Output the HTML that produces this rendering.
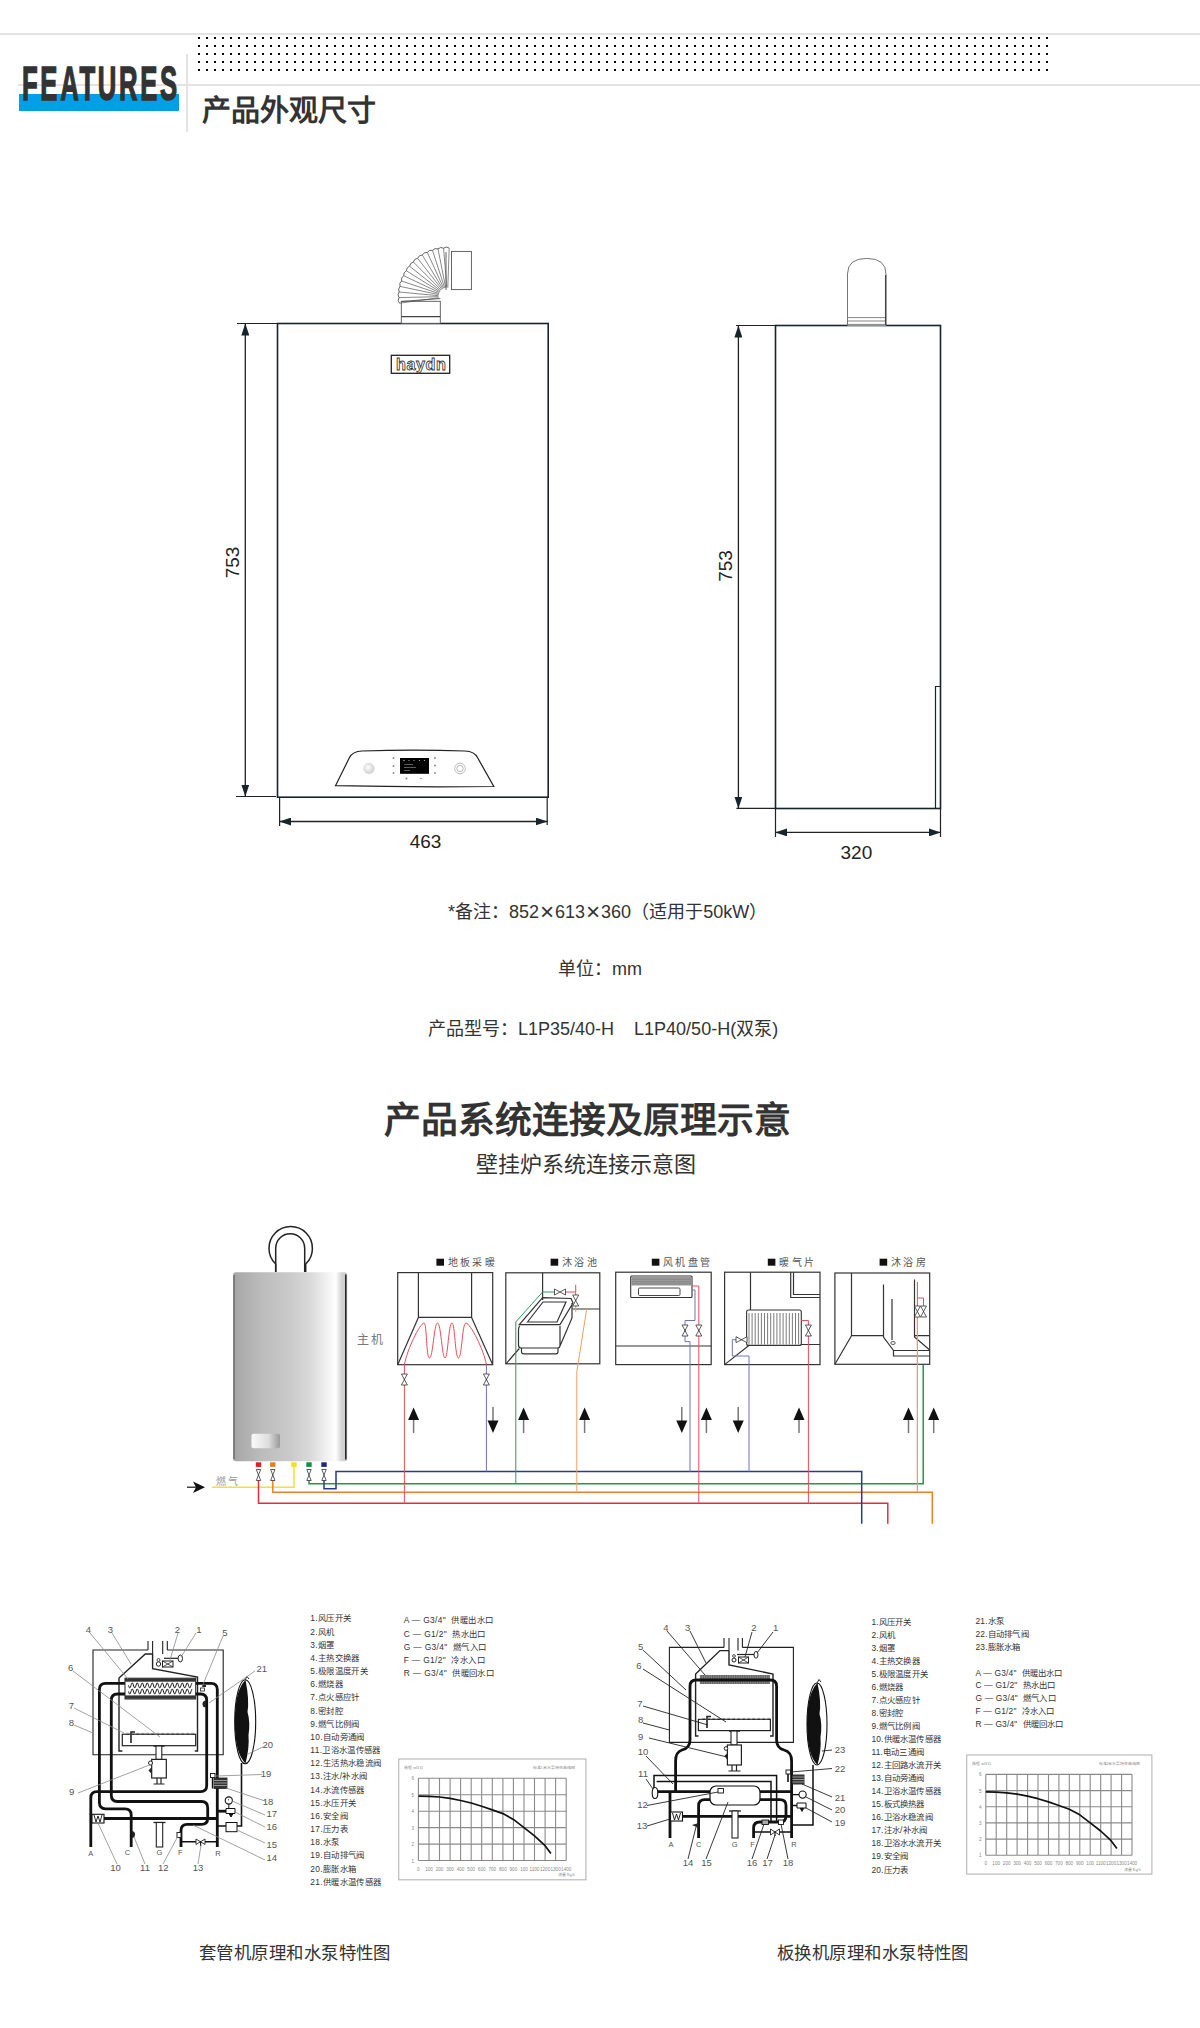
<!DOCTYPE html>
<html lang="zh-CN"><head><meta charset="utf-8">
<style>
html,body{margin:0;padding:0;background:#fff;}
body{width:1200px;height:2028px;position:relative;overflow:hidden;font-family:"Liberation Sans",sans-serif;color:#333;}
.a{position:absolute;white-space:nowrap;}
.lg{position:absolute;white-space:nowrap;font-size:8.4px;letter-spacing:0.35px;line-height:14px;color:#333;}
.l2{font-size:8.4px;letter-spacing:0.2px}
.x{display:inline-block;width:16px;text-align:center;transform:scale(1.35);font-weight:300}
svg{position:absolute;left:0;top:0;}
</style></head><body>

<svg width="1200" height="900" viewBox="0 0 1200 900" style="top:0;left:0">
<defs>
<marker id="ar" viewBox="0 0 12 8" refX="11.5" refY="4" markerWidth="12" markerHeight="8" markerUnits="userSpaceOnUse" orient="auto-start-reverse"><path d="M0 0L12 4L0 8Z" fill="#16242c"/></marker>
<radialGradient id="knob" cx="0.4" cy="0.4" r="0.7"><stop offset="0" stop-color="#fff"/><stop offset="1" stop-color="#c8c8c8"/></radialGradient>
</defs>
<g fill="none" stroke="#16242c">
<!-- front box -->
<rect x="277.5" y="323.5" width="270.7" height="473.7" stroke-width="1.6"/>
<path d="M237 323.5H277.5 M236 796.5H276" stroke-width="1.2" stroke="#222"/>
<path d="M245.3 324L245.3 796" stroke-width="1.3" stroke="#222" marker-start="url(#ar)" marker-end="url(#ar)"/>
<path d="M279.6 798V826 M547.2 798V825" stroke-width="1.2" stroke="#222"/>
<path d="M279.8 821.5H547" stroke-width="1.3" stroke="#222" marker-start="url(#ar)" marker-end="url(#ar)"/>
<!-- side box -->
<rect x="775.5" y="325.5" width="165" height="483" stroke-width="1.6"/>
<path d="M736 325.5H775.5 M736.4 808.4H775.5" stroke-width="1.2" stroke="#222"/>
<path d="M738.4 326L738.4 808" stroke-width="1.3" stroke="#222" marker-start="url(#ar)" marker-end="url(#ar)"/>
<path d="M775.5 809V837 M940.5 809V837" stroke-width="1.2" stroke="#222"/>
<path d="M775.7 832.4H940.3" stroke-width="1.3" stroke="#222" marker-start="url(#ar)" marker-end="url(#ar)"/>
<path d="M940.5 686.5H935.5V808.5" stroke-width="1.2"/>
</g>
<!-- front flue -->
<g fill="#fff" stroke="#555" stroke-width="0.9">
<rect x="401.3" y="301.3" width="39" height="22"/>
<path d="M401.3 316.6H440.3" stroke="#444" stroke-width="1.2"/>
<path d="M401.3 301.5L440.3 298.5"/>
<rect x="451.5" y="251.4" width="19.9" height="38.2"/>
<path d="M446 252V290" />
<path fill="none" stroke-width="0.7" d="M438.6 297.8L399.5 303.2 M438.5 296.7L399.0 297.6 M438.5 295.7L399.2 292.0 M438.7 294.6L400.1 286.4 M439.0 293.6L401.6 281.0 M439.4 292.6L403.7 275.7 M439.9 291.7L406.4 270.8 M440.5 290.9L409.6 266.2 M441.2 290.1L413.4 262.0 M442.0 289.4L417.6 258.3 M442.8 288.8L422.3 255.1 M443.7 288.3L427.3 252.4 M444.7 287.9L432.5 250.4 M445.7 287.7L438.0 248.9 M446.8 287.5L443.6 248.2 M447.8 287.5L449.2 248.0"/>
<path fill="none" stroke-width="0.9" d="M399.5 303.2Q397.2 300.6 399.0 297.6Q397.0 294.7 399.2 292.0Q397.6 288.9 400.1 286.4Q398.8 283.1 401.6 281.0Q400.7 277.6 403.7 275.7Q403.2 272.3 406.4 270.8Q406.3 267.3 409.6 266.2Q410.0 262.7 413.4 262.0Q414.1 258.6 417.6 258.3Q418.8 255.0 422.3 255.1Q423.8 251.9 427.3 252.4Q429.1 249.5 432.5 250.4Q434.7 247.6 438.0 248.9Q440.5 246.5 443.6 248.2Q446.3 246.0 449.2 248.0"/>
</g>
<!-- logo -->
<rect x="391.3" y="355.3" width="58.4" height="18" fill="none" stroke="#222" stroke-width="1.3"/>
<text x="421.2" y="369.8" text-anchor="middle" font-family="Liberation Sans" font-weight="bold" font-size="16.2" fill="#fff" stroke="#333" stroke-width="0.8" letter-spacing="0.5">haydn</text>
<!-- control panel -->
<path d="M335.5 785.7L349.5 757.5Q352.5 751.5 362 751Q414 749.3 465 751Q474.5 751.5 477.5 757.5L493.8 786.5Q414 787.5 335.5 785.7Z" fill="#fff" stroke="#222" stroke-width="1.2"/>
<rect x="400" y="758" width="29" height="15.8" fill="#000"/>
<g fill="#bbb"><circle cx="404" cy="760.5" r="0.7"/><circle cx="409" cy="760.5" r="0.6"/><circle cx="414" cy="760.5" r="0.6"/><circle cx="419.5" cy="760.5" r="0.6"/><circle cx="424.5" cy="760.5" r="0.6"/><rect x="404" y="764.5" width="9" height="0.5"/><rect x="404" y="767.5" width="12" height="0.5"/><rect x="404" y="770.5" width="6" height="0.5"/></g>
<g fill="#888"><circle cx="393.5" cy="758" r="1"/><circle cx="393.5" cy="766" r="1"/><circle cx="393.5" cy="773" r="0.9"/><circle cx="435" cy="758" r="1"/><circle cx="435" cy="765.5" r="1"/><circle cx="435" cy="773" r="0.9"/><circle cx="406.5" cy="778.5" r="1"/><circle cx="421" cy="778.5" r="0.8"/></g>
<circle cx="369" cy="768.5" r="5.3" fill="url(#knob)" stroke="#ddd" stroke-width="0.8"/>
<circle cx="460" cy="768.5" r="5.3" fill="#fff" stroke="#bbb" stroke-width="1"/>
<circle cx="460" cy="768.5" r="3.2" fill="none" stroke="#999" stroke-width="0.7"/>
<!-- side flue -->
<path d="M847.5 325.5V274Q847.5 258.4 866.7 258.4Q886 258.4 886 274V325.5" fill="#fff" stroke="#666" stroke-width="0.9"/>
<path d="M847.5 317.6H886 M847.5 321H886 M847.5 324.4H886" stroke="#666" stroke-width="0.8"/>
<path d="M885.6 275V325" stroke="#444" stroke-width="1.3"/>
<!-- dimension labels -->
<g font-family="Liberation Sans" font-size="19" fill="#222">
<text x="425.6" y="848" text-anchor="middle">463</text>
<text x="856.4" y="859" text-anchor="middle">320</text>
<text transform="translate(239 562.5) rotate(-90)" text-anchor="middle">753</text>
<text transform="translate(731.8 566) rotate(-90)" text-anchor="middle">753</text>
</g>
</svg>


<svg width="1200" height="2028" viewBox="0 0 1200 2028" style="top:0;left:0">
<defs>
<linearGradient id="bg" x1="0" x2="1" y1="0" y2="0"><stop offset="0" stop-color="#a6a6a6"/><stop offset="0.25" stop-color="#bcbcbc"/><stop offset="0.5" stop-color="#cacaca"/><stop offset="0.68" stop-color="#dadada"/><stop offset="0.84" stop-color="#f4f4f4"/><stop offset="0.9" stop-color="#fefefe"/><stop offset="0.95" stop-color="#d5d5d5"/><stop offset="1" stop-color="#c8c8c8"/></linearGradient>
<linearGradient id="wg" x1="0" x2="1"><stop offset="0" stop-color="#fafafa"/><stop offset="0.6" stop-color="#ddd"/><stop offset="1" stop-color="#999"/></linearGradient>
</defs>
<!-- boiler -->
<path d="M275.7 1272V1264A21.7 21.7 0 1 1 305.7 1264V1272" fill="none" stroke="#222" stroke-width="1.5"/>
<path d="M275.7 1272V1248.3A14.5 14.5 0 0 1 304.7 1248.3V1272" fill="none" stroke="#222" stroke-width="1.5"/>
<rect x="233.2" y="1272.3" width="114" height="189" rx="2.5" fill="url(#bg)"/>
<path d="M345.8 1274.5V1459.5" stroke="#2a2a2a" stroke-width="1.6"/>
<path d="M234 1275V1459" stroke="#555" stroke-width="1.1"/>
<rect x="251.5" y="1433.7" width="28.5" height="14.6" rx="2" fill="url(#wg)"/>
<g stroke-width="1.5" fill="none">
<path d="M294 1466V1487.2H212" stroke="#f2e22a"/>
<path d="M258.5 1478V1503.3H887.8V1523.8" stroke="#e0303a"/>
<path d="M272.8 1478V1492.3H932.3V1523.8" stroke="#e8822a"/>
<path d="M309 1478V1483.8H923.2V1364.5" stroke="#1f9a4c"/>
<path d="M324 1478V1488.7H336V1471.6H861.7V1523.8" stroke="#2a3a8a"/>
</g>
<rect x="255.8" y="1462.3" width="5.4" height="4.6" fill="#e02020"/>
<rect x="270.1" y="1462.3" width="5.4" height="4.6" fill="#e8801a"/>
<rect x="291.3" y="1462.3" width="5.4" height="4.6" fill="#f5e020"/>
<rect x="306.3" y="1462.3" width="5.4" height="4.6" fill="#109040"/>
<rect x="321.3" y="1462.3" width="5.4" height="4.6" fill="#1a2a80"/>
<path d="M256.3 1469.5L260.7 1469.5L256.3 1480.5L260.7 1480.5Z" fill="#fff" stroke="#333" stroke-width="0.8"/><path d="M270.6 1469.5L275.0 1469.5L270.6 1480.5L275.0 1480.5Z" fill="#fff" stroke="#333" stroke-width="0.8"/><path d="M306.8 1469.5L311.2 1469.5L306.8 1480.5L311.2 1480.5Z" fill="#fff" stroke="#333" stroke-width="0.8"/><path d="M321.8 1469.5L326.2 1469.5L321.8 1480.5L326.2 1480.5Z" fill="#fff" stroke="#333" stroke-width="0.8"/>
<path d="M187 1487.2H200" stroke="#111" stroke-width="1.2"/><path d="M205 1487.2L193 1481.5L196 1487.2L193 1493Z" fill="#111"/>
<!-- rooms -->
<g fill="none" stroke="#333" stroke-width="1.2">
<rect x="397.7" y="1272.6" width="95" height="92.1"/>
<path d="M418.4 1272.6V1317.4H471.6V1272.6 M418.4 1317.4L397.7 1364.7 M471.6 1317.4L492.7 1364.7"/>
<rect x="505.8" y="1272.8" width="94" height="91"/>
<path d="M542.6 1272.8V1300 M572.4 1309H599.8 M506 1363.8L519.3 1348.5"/>
<path d="M519.3 1324.6L542.6 1297.6L571 1298.5L573 1303L560 1324.6Z M527.5 1322L543 1302L566 1302L557 1322Z M519.8 1326Q518.5 1327 518.5 1330V1345Q518.5 1348 521 1348H558Q560 1348 560 1345V1326 M560 1346L572 1318V1303 M521.5 1348.5V1352Q521.5 1353.8 524 1353.8H556Q558 1353.8 558 1351.5V1348.5"/>
<rect x="615.7" y="1272.2" width="95.5" height="92.4"/>
<path d="M615.7 1346H711.2"/>
<rect x="724.6" y="1272.2" width="95.4" height="92.4"/>
<path d="M750.5 1272.2V1312 M801 1344.5H820 M724.6 1364.6L751.4 1343.5 M790.7 1272.2V1297.5H820 M793.5 1272.2V1294.5H820"/>
<rect x="834.9" y="1273" width="94.8" height="91.3"/>
<path d="M851.5 1273V1335.7H883 M914.5 1335.7H929.7 M834.9 1364.3L851.5 1335.7"/>
<path d="M883.5 1284.6V1337 L893.5 1350.5H929.7 M914.5 1279.4V1337L929.7 1350 M893.5 1350.5V1356H929.7 M892 1299V1340"/>
</g>
<ellipse cx="893" cy="1343" rx="2.2" ry="1.5" fill="none" stroke="#333" stroke-width="0.8"/>
<rect x="630.7" y="1276" width="61.3" height="21.5" rx="1" fill="#fff" stroke="#333" stroke-width="1.1"/>
<rect x="631.3" y="1277" width="60" height="8.5" fill="#9a9a9a"/>
<path d="M631.3 1279.3H691.3M631.3 1281.6H691.3M631.3 1283.8H691.3" stroke="#777" stroke-width="0.5"/>
<rect x="638.5" y="1288" width="41.5" height="7.5" rx="1.2" fill="#fff" stroke="#333" stroke-width="0.9"/>
<rect x="746.6" y="1310" width="54.7" height="35.4" rx="2" fill="#fff" stroke="#333" stroke-width="1.1"/>
<path d="M749.0 1313V1344.5 M752.1 1313V1344.5 M755.2 1313V1344.5 M758.3 1313V1344.5 M761.4 1313V1344.5 M764.5 1313V1344.5 M767.6 1313V1344.5 M770.7 1313V1344.5 M773.8 1313V1344.5 M776.9 1313V1344.5 M780.0 1313V1344.5 M783.1 1313V1344.5 M786.2 1313V1344.5 M789.3 1313V1344.5 M792.4 1313V1344.5 M795.5 1313V1344.5 M798.6 1313V1344.5 " stroke="#444" stroke-width="0.7"/>
<g fill="none" stroke-width="1">
<path d="M404.4 1364.7V1503" stroke="#e4505a"/>
<path d="M486.4 1364.7V1471.6" stroke="#6c74b8"/>
<path d="M515.8 1484V1321.9L542.6 1292H555" stroke="#2a9a5a"/>
<path d="M565 1292H575.7V1284.7 M575.7 1292V1296" stroke="#e4505a"/>
<path d="M576.8 1492.4V1372L586.7 1309 M575.7 1305V1312" stroke="#f0a060"/>
<path d="M690 1471.6V1341.6H685V1320.5H695V1290H692" stroke="#6c74b8"/>
<path d="M698.8 1503.3V1286H692" stroke="#e4505a"/>
<path d="M749 1471.6V1356H732.3V1339.7H746" stroke="#6c74b8"/>
<path d="M808.4 1503.3V1320.5H801" stroke="#e4505a"/>
<path d="M917.4 1492.4V1317 M917.4 1306V1282 M917.4 1298H923.5V1306" stroke="#e4505a"/>
<path d="M917.4 1492.4V1317" stroke="#f0a060"/>
</g>
<path d="M404.4 1364.7C407 1350 420 1323 424 1323C427 1323 426 1358 429.5 1358C433 1358 434 1323 437.5 1323C441 1323 442 1358 445 1358C448 1358 448.5 1323 452 1323C455 1323 455 1358 458.5 1358C462 1358 462 1323 466 1323C470 1323 484 1350 486.4 1364.7" fill="none" stroke="#e4505a" stroke-width="1"/>
<path d="M401.4 1374.0L407.4 1374.0L401.4 1385.0L407.4 1385.0Z" fill="#fff" stroke="#333" stroke-width="0.8"/><path d="M483.4 1374.0L489.4 1374.0L483.4 1385.0L489.4 1385.0Z" fill="#fff" stroke="#333" stroke-width="0.8"/><path d="M554.5 1289L554.5 1295L565.5 1289L565.5 1295Z" fill="#fff" stroke="#333" stroke-width="0.8"/><path d="M572.7 1295.0L578.7 1295.0L572.7 1306.0L578.7 1306.0Z" fill="#fff" stroke="#333" stroke-width="0.8"/><path d="M682 1325.0L688 1325.0L682 1336.0L688 1336.0Z" fill="#fff" stroke="#333" stroke-width="0.8"/><path d="M695.8 1325.0L701.8 1325.0L695.8 1336.0L701.8 1336.0Z" fill="#fff" stroke="#333" stroke-width="0.8"/><path d="M736.0 1336.7L736.0 1342.7L747.0 1336.7L747.0 1342.7Z" fill="#fff" stroke="#333" stroke-width="0.8"/><path d="M805.4 1325.0L811.4 1325.0L805.4 1336.0L811.4 1336.0Z" fill="#fff" stroke="#333" stroke-width="0.8"/><path d="M914.4 1306.0L920.4 1306.0L914.4 1317.0L920.4 1317.0Z" fill="#fff" stroke="#333" stroke-width="0.8"/><path d="M920.5 1306.0L926.5 1306.0L920.5 1317.0L926.5 1317.0Z" fill="#fff" stroke="#333" stroke-width="0.8"/>
<path d="M413.6 1433V1418" stroke="#777" stroke-width="1.5"/><path d="M413.6 1407.5L419.1 1420L408.1 1420Z" fill="#111"/><path d="M523.6 1433V1418" stroke="#777" stroke-width="1.5"/><path d="M523.6 1407.5L529.1 1420L518.1 1420Z" fill="#111"/><path d="M584.6 1433V1418" stroke="#777" stroke-width="1.5"/><path d="M584.6 1407.5L590.1 1420L579.1 1420Z" fill="#111"/><path d="M706.4 1433V1418" stroke="#777" stroke-width="1.5"/><path d="M706.4 1407.5L711.9 1420L700.9 1420Z" fill="#111"/><path d="M799 1433V1418" stroke="#777" stroke-width="1.5"/><path d="M799 1407.5L804.5 1420L793.5 1420Z" fill="#111"/><path d="M908.5 1433V1418" stroke="#777" stroke-width="1.5"/><path d="M908.5 1407.5L914.0 1420L903.0 1420Z" fill="#111"/><path d="M933.7 1433V1418" stroke="#777" stroke-width="1.5"/><path d="M933.7 1407.5L939.2 1420L928.2 1420Z" fill="#111"/><path d="M493 1407V1422" stroke="#777" stroke-width="1.5"/><path d="M493 1433L498.5 1420.5L487.5 1420.5Z" fill="#111"/><path d="M681.8 1407V1422" stroke="#777" stroke-width="1.5"/><path d="M681.8 1433L687.3 1420.5L676.3 1420.5Z" fill="#111"/><path d="M738.2 1407V1422" stroke="#777" stroke-width="1.5"/><path d="M738.2 1433L743.7 1420.5L732.7 1420.5Z" fill="#111"/>
<g font-family="Liberation Sans" fill="#555" font-size="10">
<text x="447.6" y="1266" letter-spacing="2.4">地板采暖</text>
<text x="561.8" y="1266" letter-spacing="2.4">沐浴池</text>
<text x="663" y="1266" letter-spacing="2.4">风机盘管</text>
<text x="779.2" y="1266" letter-spacing="2.4">暖气片</text>
<text x="891" y="1266" letter-spacing="2.4">沐浴房</text>
<text x="357" y="1343.5" font-size="12" letter-spacing="1.5" fill="#777">主机</text>
<text x="215.5" y="1484.5" font-size="10" fill="#999" letter-spacing="2.5">燃气</text>
</g>
<g fill="#151010"><rect x="436.4" y="1258.7" width="7.6" height="7"/><rect x="550.6" y="1258.7" width="7.6" height="7"/><rect x="651.8" y="1258.7" width="7.6" height="7"/><rect x="767.8" y="1258.7" width="7.6" height="7"/><rect x="879.6" y="1258.7" width="7.6" height="7"/></g>
</svg>







<!-- S3 -->
<svg width="1200" height="2028" viewBox="0 0 1200 2028" style="top:0;left:0">
<g fill="none" stroke="#222" stroke-width="1.1">
<path d="M148 1650H93V1754.8H223.2V1650H167.3 M148 1641V1650 M167.3 1641V1650 M152.6 1641V1654 M162.7 1641V1654"/>
</g>
<g fill="none" stroke="#222" stroke-width="1.4">
<path d="M152.6 1654H145.3L119 1678V1751H122.4 M152.6 1654V1668.7L197.5 1677V1751H194.8"/>
</g>
<rect x="122.3" y="1734.3" width="73.4" height="11.4" fill="#fff" stroke="#222" stroke-width="1.2"/>
<path d="M131 1743V1732H135" stroke="#222" stroke-width="1.6" fill="none"/>
<path d="M124 1734.3h2.5v-1h2.5v1h2.5v-1h2.5v1h2.5v-1h2.5v1h2.5v-1h2.5v1h2.5v-1h2.5v1h2.5v-1h2.5v1h2.5v-1h2.5v1h2.5v-1h2.5v1h2.5v-1h2.5v1h2.5v-1h2.5v1h2.5v-1h2.5v1h2.5v-1h2.5v1h2.5v-1h2.5v1h2.5v-1h2.5v1" stroke="#666" stroke-width="0.6" fill="none"/>
<path d="M153.5 1746H164.5" stroke="#222" stroke-width="1.5"/><rect x="156" y="1746" width="5.8" height="13.4" fill="#fff" stroke="#222" stroke-width="1.1"/>
<rect x="151.7" y="1759.4" width="14.6" height="18.6" fill="#fff" stroke="#222" stroke-width="1.2"/>
<circle cx="150.5" cy="1763" r="2" fill="#fff" stroke="#222" stroke-width="1"/><path d="M148.5 1770.5L151.7 1767V1774Z" fill="#222"/>
<path d="M157 1778V1784 M161 1778V1784 M153.5 1784H164.5" stroke="#222" stroke-width="1.2"/>
<rect x="162.5" y="1661" width="10.5" height="6" fill="#fff" stroke="#222" stroke-width="1"/><path d="M162.5 1661L173 1667M173 1661L162.5 1667" stroke="#222" stroke-width="0.8"/>
<circle cx="158.5" cy="1664" r="2.2" fill="#fff" stroke="#222" stroke-width="1"/><circle cx="158.5" cy="1660" r="1.5" fill="#fff" stroke="#222" stroke-width="0.8"/>
<path d="M164 1658.3H178" stroke="#222" stroke-width="1.2"/><ellipse cx="180.3" cy="1658.5" rx="2.2" ry="3.5" fill="#fff" stroke="#222" stroke-width="1"/>
<g fill="none" stroke="#111" stroke-width="2.8" stroke-linejoin="round">
<path d="M131.2 1847V1815Q131.2 1808.8 125 1808.8H105.6Q99.4 1808.8 99.4 1802.6V1689.5Q99.4 1683.3 105.6 1683.3H211.1Q217.3 1683.3 217.3 1689.5V1847"/>
<path d="M181 1847V1830.6Q181 1824.4 187.2 1824.4H201.5Q207.7 1824.4 207.7 1818.2V1807.7Q207.7 1801.5 201.5 1801.5H117.5Q111.3 1801.5 111.3 1795.3V1700.2Q111.3 1694 117.5 1694H200.5Q206.7 1694 206.7 1700.2V1785.5Q206.7 1791.7 200.5 1791.7H97Q90.8 1791.7 90.8 1797.9V1847"/>
<path d="M104 1818.5H217.3"/>
</g>
<rect x="125" y="1678.2" width="70.7" height="20.8" fill="#fff" stroke="#222" stroke-width="1"/>
<rect x="125" y="1678.3" width="70.8" height="3.4" fill="#333"/><rect x="125" y="1695.4" width="70.8" height="3.4" fill="#333"/>
<path d="M128.5 1685.4L128.9 1686.6L129.3 1687.5L129.7 1687.9L130.1 1687.7L130.5 1686.9L130.9 1685.7L131.3 1684.5L131.7 1683.5L132.1 1682.9L132.5 1683.0L132.9 1683.7L133.3 1684.8L133.7 1686.0L134.1 1687.1L134.5 1687.8L134.9 1687.9L135.3 1687.3L135.7 1686.3L136.1 1685.1L136.5 1683.9L136.9 1683.1L137.3 1682.9L137.7 1683.3L138.1 1684.2L138.5 1685.4L138.9 1686.6L139.3 1687.5L139.7 1687.9L140.1 1687.7L140.5 1686.9L140.9 1685.7L141.3 1684.5L141.7 1683.5L142.1 1682.9L142.5 1683.0L142.9 1683.7L143.3 1684.8L143.7 1686.0L144.1 1687.1L144.5 1687.8L144.9 1687.9L145.3 1687.3L145.7 1686.3L146.1 1685.1L146.5 1683.9L146.9 1683.1L147.3 1682.9L147.7 1683.3L148.1 1684.2L148.5 1685.4L148.9 1686.6L149.3 1687.5L149.7 1687.9L150.1 1687.7L150.5 1686.9L150.9 1685.7L151.3 1684.5L151.7 1683.5L152.1 1682.9L152.5 1683.0L152.9 1683.7L153.3 1684.8L153.7 1686.0L154.1 1687.1L154.5 1687.8L154.9 1687.9L155.3 1687.3L155.7 1686.3L156.1 1685.1L156.5 1683.9L156.9 1683.1L157.3 1682.9L157.7 1683.3L158.1 1684.2L158.5 1685.4L158.9 1686.6L159.3 1687.5L159.7 1687.9L160.1 1687.7L160.5 1686.9L160.9 1685.7L161.3 1684.5L161.7 1683.5L162.1 1682.9L162.5 1683.0L162.9 1683.7L163.3 1684.8L163.7 1686.0L164.1 1687.1L164.5 1687.8L164.9 1687.9L165.3 1687.3L165.7 1686.3L166.1 1685.1L166.5 1683.9L166.9 1683.1L167.3 1682.9L167.7 1683.3L168.1 1684.2L168.5 1685.4L168.9 1686.6L169.3 1687.5L169.7 1687.9L170.1 1687.7L170.5 1686.9L170.9 1685.7L171.3 1684.5L171.7 1683.5L172.1 1682.9L172.5 1683.0L172.9 1683.7L173.3 1684.8L173.7 1686.0L174.1 1687.1L174.5 1687.8L174.9 1687.9L175.3 1687.3L175.7 1686.3L176.1 1685.1L176.5 1683.9L176.9 1683.1L177.3 1682.9L177.7 1683.3L178.1 1684.2L178.5 1685.4L178.9 1686.6L179.3 1687.5L179.7 1687.9L180.1 1687.7L180.5 1686.9L180.9 1685.7L181.3 1684.5L181.7 1683.5L182.1 1682.9L182.5 1683.0L182.9 1683.7L183.3 1684.8L183.7 1686.0L184.1 1687.1L184.5 1687.8L184.9 1687.9L185.3 1687.3L185.7 1686.3L186.1 1685.1L186.5 1683.9L186.9 1683.1L187.3 1682.9L187.7 1683.3L188.1 1684.2L188.5 1685.4L188.9 1686.6L189.3 1687.5L189.7 1687.9L190.1 1687.7L190.5 1686.9L190.9 1685.7L191.3 1684.5L191.7 1683.5L192.1 1682.9 M128.5 1691.5L128.9 1692.7L129.3 1693.6L129.7 1694.0L130.1 1693.8L130.5 1693.0L130.9 1691.8L131.3 1690.6L131.7 1689.6L132.1 1689.0L132.5 1689.1L132.9 1689.8L133.3 1690.9L133.7 1692.1L134.1 1693.2L134.5 1693.9L134.9 1694.0L135.3 1693.4L135.7 1692.4L136.1 1691.2L136.5 1690.0L136.9 1689.2L137.3 1689.0L137.7 1689.4L138.1 1690.3L138.5 1691.5L138.9 1692.7L139.3 1693.6L139.7 1694.0L140.1 1693.8L140.5 1693.0L140.9 1691.8L141.3 1690.6L141.7 1689.6L142.1 1689.0L142.5 1689.1L142.9 1689.8L143.3 1690.9L143.7 1692.1L144.1 1693.2L144.5 1693.9L144.9 1694.0L145.3 1693.4L145.7 1692.4L146.1 1691.2L146.5 1690.0L146.9 1689.2L147.3 1689.0L147.7 1689.4L148.1 1690.3L148.5 1691.5L148.9 1692.7L149.3 1693.6L149.7 1694.0L150.1 1693.8L150.5 1693.0L150.9 1691.8L151.3 1690.6L151.7 1689.6L152.1 1689.0L152.5 1689.1L152.9 1689.8L153.3 1690.9L153.7 1692.1L154.1 1693.2L154.5 1693.9L154.9 1694.0L155.3 1693.4L155.7 1692.4L156.1 1691.2L156.5 1690.0L156.9 1689.2L157.3 1689.0L157.7 1689.4L158.1 1690.3L158.5 1691.5L158.9 1692.7L159.3 1693.6L159.7 1694.0L160.1 1693.8L160.5 1693.0L160.9 1691.8L161.3 1690.6L161.7 1689.6L162.1 1689.0L162.5 1689.1L162.9 1689.8L163.3 1690.9L163.7 1692.1L164.1 1693.2L164.5 1693.9L164.9 1694.0L165.3 1693.4L165.7 1692.4L166.1 1691.2L166.5 1690.0L166.9 1689.2L167.3 1689.0L167.7 1689.4L168.1 1690.3L168.5 1691.5L168.9 1692.7L169.3 1693.6L169.7 1694.0L170.1 1693.8L170.5 1693.0L170.9 1691.8L171.3 1690.6L171.7 1689.6L172.1 1689.0L172.5 1689.1L172.9 1689.8L173.3 1690.9L173.7 1692.1L174.1 1693.2L174.5 1693.9L174.9 1694.0L175.3 1693.4L175.7 1692.4L176.1 1691.2L176.5 1690.0L176.9 1689.2L177.3 1689.0L177.7 1689.4L178.1 1690.3L178.5 1691.5L178.9 1692.7L179.3 1693.6L179.7 1694.0L180.1 1693.8L180.5 1693.0L180.9 1691.8L181.3 1690.6L181.7 1689.6L182.1 1689.0L182.5 1689.1L182.9 1689.8L183.3 1690.9L183.7 1692.1L184.1 1693.2L184.5 1693.9L184.9 1694.0L185.3 1693.4L185.7 1692.4L186.1 1691.2L186.5 1690.0L186.9 1689.2L187.3 1689.0L187.7 1689.4L188.1 1690.3L188.5 1691.5L188.9 1692.7L189.3 1693.6L189.7 1694.0L190.1 1693.8L190.5 1693.0L190.9 1691.8L191.3 1690.6L191.7 1689.6L192.1 1689.0" fill="none" stroke="#111" stroke-width="1.0"/>
<path d="M181 1841.8H217.3 M217.3 1826H241.5V1763" stroke="#111" stroke-width="1.6" fill="none"/>
<rect x="92" y="1814.3" width="12" height="8.7" fill="#fff" stroke="#111" stroke-width="1.1"/><path d="M94 1815L96 1822L98 1816L100 1822L102 1815" stroke="#111" stroke-width="0.9" fill="none"/>
<path d="M131.5 1831A3.5 3.5 0 0 1 131.5 1838Z" fill="#222"/>
<rect x="177" y="1832.5" width="4" height="5" fill="#fff" stroke="#222" stroke-width="1"/>
<path d="M196 1839L205 1844.5V1839L196 1844.5Z" fill="#fff" stroke="#222" stroke-width="0.9"/><path d="M200.6 1841.8V1846" stroke="#222" stroke-width="1.2"/>
<path d="M153.5 1822.5H165.5" stroke="#222" stroke-width="1.3"/><rect x="156.3" y="1822.5" width="6.4" height="24.5" fill="#fff" stroke="#222" stroke-width="1.1"/>
<rect x="214" y="1778" width="13" height="10.5" fill="#333" stroke="#222" stroke-width="0.8"/><path d="M214 1780.5H227M214 1783H227M214 1785.5H227" stroke="#ddd" stroke-width="0.6"/><path d="M212.5 1778V1788.5" stroke="#111" stroke-width="1.4"/><rect x="210.5" y="1773.5" width="4.5" height="4" fill="#fff" stroke="#111" stroke-width="0.9"/>
<circle cx="228.8" cy="1800.5" r="3.6" fill="#fff" stroke="#111" stroke-width="1.1"/><path d="M228.8 1804V1811" stroke="#111" stroke-width="1"/><path d="M228.5 1798.8V1800.5" stroke="#111" stroke-width="0.6"/>
<path d="M216 1811.2H231" stroke="#111" stroke-width="2.8"/><path d="M226 1808.5H235V1813.5H226Z" fill="#fff" stroke="#111" stroke-width="1"/><path d="M229 1813.5L231 1817L233 1813.5" stroke="#111" stroke-width="1" fill="#111"/>
<rect x="226" y="1822.5" width="11" height="9.2" fill="#fff" stroke="#111" stroke-width="1"/>
<path d="M202 1686H206" stroke="#222" stroke-width="2"/><rect x="200.5" y="1688" width="4" height="3" fill="#fff" stroke="#222" stroke-width="0.8"/>
<path d="M206 1700.5A3.5 3.5 0 0 0 206 1707.5Z" fill="#222"/>
<ellipse cx="245.2" cy="1721.8" rx="10.5" ry="42" fill="#fff" stroke="#111" stroke-width="1.1"/>
<path d="M245.5 1680Q234.8 1690 234.8 1721.8Q234.8 1753 245.5 1763.5Q249.5 1748 248.5 1735Q250.5 1722 247.5 1712Q249.5 1700 245.5 1680Z" fill="#111"/>
<path d="M245.2 1679.8L247 1676.5L249 1679" stroke="#111" stroke-width="0.9" fill="none"/>
<path d="M90 1633L128 1679M112 1633L131 1664M178 1633L170 1660M196 1633L181 1657M223 1636L202 1687M73 1671L160 1737M255 1671L209 1703M74 1708L124 1733M74 1725L93 1733M263 1747L248 1754M262 1774.5L216 1776M78 1793L152 1764M265 1801L226 1788M265 1815L232 1801M265 1827L235 1812M265 1843L237 1830M265 1860L193 1825M117 1864L98 1823M145 1864L134 1837M163 1864L177.5 1837M198 1864L201 1845" stroke="#8a8a8a" stroke-width="0.8" fill="none"/>
<g font-family="Liberation Sans">
<text x="88.4" y="1633.4" text-anchor="middle" fill="#555" font-size="9.5">4</text>
<text x="110.5" y="1633.4" text-anchor="middle" fill="#555" font-size="9.5">3</text>
<text x="177.3" y="1633.4" text-anchor="middle" fill="#555" font-size="9.5">2</text>
<text x="199" y="1633.4" text-anchor="middle" fill="#555" font-size="9.5">1</text>
<text x="225" y="1635.9" text-anchor="middle" fill="#555" font-size="9.5">5</text>
<text x="70.6" y="1671.4" text-anchor="middle" fill="#555" font-size="9.5">6</text>
<text x="261.7" y="1672.0" text-anchor="middle" fill="#555" font-size="9.5">21</text>
<text x="71.5" y="1709.4" text-anchor="middle" fill="#555" font-size="9.5">7</text>
<text x="71.5" y="1726.0" text-anchor="middle" fill="#555" font-size="9.5">8</text>
<text x="267.8" y="1748.4" text-anchor="middle" fill="#555" font-size="9.5">20</text>
<text x="266" y="1776.9" text-anchor="middle" fill="#555" font-size="9.5">19</text>
<text x="71.6" y="1794.9" text-anchor="middle" fill="#555" font-size="9.5">9</text>
<text x="268" y="1804.8" text-anchor="middle" fill="#555" font-size="9.5">18</text>
<text x="271.7" y="1817.4" text-anchor="middle" fill="#555" font-size="9.5">17</text>
<text x="271.7" y="1829.8" text-anchor="middle" fill="#555" font-size="9.5">16</text>
<text x="271.7" y="1847.9" text-anchor="middle" fill="#555" font-size="9.5">15</text>
<text x="271.7" y="1861.4" text-anchor="middle" fill="#555" font-size="9.5">14</text>
<text x="115.6" y="1871.0" text-anchor="middle" fill="#555" font-size="9.5">10</text>
<text x="145" y="1871.0" text-anchor="middle" fill="#555" font-size="9.5">11</text>
<text x="163.2" y="1871.0" text-anchor="middle" fill="#555" font-size="9.5">12</text>
<text x="198" y="1871.4" text-anchor="middle" fill="#555" font-size="9.5">13</text>
<text x="90.8" y="1855.5" text-anchor="middle" fill="#555" font-size="7.5">A</text>
<text x="127.4" y="1854.5" text-anchor="middle" fill="#555" font-size="7.5">C</text>
<text x="159.4" y="1854.9" text-anchor="middle" fill="#555" font-size="7.5">G</text>
<text x="180.3" y="1854.9" text-anchor="middle" fill="#555" font-size="7.5">F</text>
<text x="218" y="1855.5" text-anchor="middle" fill="#555" font-size="7.5">R</text>
</g>
<rect x="398.75" y="1759" width="187.2" height="120.8" fill="none" stroke="#b5b5b5" stroke-width="1.1"/><path d="M418.4 1778.3V1860.5 M429.0 1778.3V1860.5 M439.5 1778.3V1860.5 M450.1 1778.3V1860.5 M460.6 1778.3V1860.5 M471.2 1778.3V1860.5 M481.7 1778.3V1860.5 M492.3 1778.3V1860.5 M502.9 1778.3V1860.5 M513.4 1778.3V1860.5 M524.0 1778.3V1860.5 M534.5 1778.3V1860.5 M545.1 1778.3V1860.5 M555.6 1778.3V1860.5 M566.2 1778.3V1860.5 M418.4 1778.3H566.2 M418.4 1794.7H566.2 M418.4 1811.2H566.2 M418.4 1827.6H566.2 M418.4 1844.1H566.2 M418.4 1860.5H566.2 " stroke="#8a8a8a" stroke-width="1.1" fill="none"/><path d="M418.4 1796.1L429.0 1796.4L439.5 1797.0L450.1 1798.4L460.6 1800.5L471.2 1803.0L481.7 1806.2L492.3 1809.9L502.9 1813.6L513.4 1819.4L524.0 1827.6L534.5 1835.8L545.1 1845.7L550.9 1853.6" stroke="#111" stroke-width="1.7" fill="none" stroke-linejoin="round"/><g font-family="Liberation Sans" font-size="4.6" fill="#888" text-anchor="middle"><text x="412.9" y="1780.3">6</text><text x="412.9" y="1796.7">5</text><text x="412.9" y="1813.2">4</text><text x="412.9" y="1829.6">3</text><text x="412.9" y="1846.1">2</text><text x="412.9" y="1862.5">1</text><text x="418.4" y="1870.5">0</text><text x="429.0" y="1870.5">100</text><text x="439.5" y="1870.5">200</text><text x="450.1" y="1870.5">300</text><text x="460.6" y="1870.5">400</text><text x="471.2" y="1870.5">500</text><text x="481.7" y="1870.5">600</text><text x="492.3" y="1870.5">700</text><text x="502.9" y="1870.5">800</text><text x="513.4" y="1870.5">900</text><text x="524.0" y="1870.5">100</text><text x="534.5" y="1870.5">1100</text><text x="545.1" y="1870.5">1200</text><text x="555.6" y="1870.5">1300</text><text x="566.2" y="1870.5">1400</text></g><g font-family="Liberation Serif" font-size="3.9" fill="#888"><text x="404.2" y="1768.5">扬程 mH O</text><text x="532.6" y="1768.5">标准1米水泵特性曲线图</text><text x="558.0" y="1876.3">流量 Kg/h</text></g>
<path d="M724 1647.4H669.4V1742.4H793.4V1647.4H742.4 M724 1638V1647.4 M742.4 1638V1647.4 M729 1638V1650.6 M738 1638V1650.6" fill="none" stroke="#222" stroke-width="1.1"/>
<path d="M729 1650.6H720L695.6 1674V1736H698.5 M729 1650.6V1665L773 1674V1736H770" fill="none" stroke="#222" stroke-width="1.4"/>
<rect x="700" y="1675" width="70" height="9" fill="#666"/>
<path d="M700.0 1675V1684 M702.3 1675V1684 M704.6 1675V1684 M706.9 1675V1684 M709.2 1675V1684 M711.5 1675V1684 M713.8 1675V1684 M716.1 1675V1684 M718.4 1675V1684 M720.7 1675V1684 M723.0 1675V1684 M725.3 1675V1684 M727.6 1675V1684 M729.9 1675V1684 M732.2 1675V1684 M734.5 1675V1684 M736.8 1675V1684 M739.1 1675V1684 M741.4 1675V1684 M743.7 1675V1684 M746.0 1675V1684 M748.3 1675V1684 M750.6 1675V1684 M752.9 1675V1684 M755.2 1675V1684 M757.5 1675V1684 M759.8 1675V1684 M762.1 1675V1684 M764.4 1675V1684 M766.7 1675V1684 M769.0 1675V1684 " stroke="#aaa" stroke-width="0.5"/>
<rect x="698.4" y="1719.4" width="72" height="11.2" fill="#fff" stroke="#222" stroke-width="1.2"/>
<path d="M707 1728V1716.5H711" stroke="#222" stroke-width="1.6" fill="none"/>
<path d="M700 1719.4h2.5v-1h2.5v1h2.5v-1h2.5v1h2.5v-1h2.5v1h2.5v-1h2.5v1h2.5v-1h2.5v1h2.5v-1h2.5v1h2.5v-1h2.5v1h2.5v-1h2.5v1h2.5v-1h2.5v1h2.5v-1h2.5v1h2.5v-1h2.5v1h2.5v-1h2.5v1h2.5v-1h2.5v1h2.5v-1h2.5v1" stroke="#666" stroke-width="0.6" fill="none"/>
<path d="M729 1731H740" stroke="#222" stroke-width="1.5"/><rect x="731" y="1731" width="6" height="14" fill="#fff" stroke="#222" stroke-width="1.1"/>
<rect x="727.4" y="1745" width="14" height="20" fill="#fff" stroke="#222" stroke-width="1.2"/>
<circle cx="726" cy="1748.5" r="1.8" fill="#fff" stroke="#222" stroke-width="1"/><path d="M724.5 1756L727.4 1753V1760Z" fill="#222"/>
<path d="M732 1765V1771 M736.5 1765V1771 M728.5 1771H740.5" stroke="#222" stroke-width="1.2"/>
<rect x="738.5" y="1657" width="10" height="6" fill="#fff" stroke="#222" stroke-width="1"/><path d="M738.5 1657L748.5 1663M748.5 1657L738.5 1663" stroke="#222" stroke-width="0.8"/>
<circle cx="734" cy="1660" r="2" fill="#fff" stroke="#222" stroke-width="1"/><circle cx="734" cy="1656" r="1.4" fill="#fff" stroke="#222" stroke-width="0.8"/>
<path d="M737 1654.5H754" stroke="#222" stroke-width="1.2"/><ellipse cx="756" cy="1654.8" rx="2" ry="3.4" fill="#fff" stroke="#222" stroke-width="1"/>
<g fill="none" stroke="#111" stroke-width="2.8" stroke-linejoin="round">
<path d="M675.6 1791.6V1761Q675.6 1752 682 1750Q690 1748 690 1740V1686.2Q690 1680 696.2 1680H770.4Q776.6 1680 776.6 1686.2V1740Q776.6 1748 784 1750Q791.6 1752 791.6 1761V1838"/>
<path d="M656 1791.6H710 M760 1791.6H791.6 M760 1799.6H780Q786 1799.6 786 1805.6V1816Q786 1822 780 1822H760Q753.6 1822 753.6 1828V1838 M698.6 1838V1805.8Q698.6 1799.6 704.8 1799.6H710 M670 1816.4H791.6 M670 1791.6V1838"/>
</g>
<path d="M654 1788V1775.6H776.6V1822 M656.6 1781.6H771V1822 M753.6 1832H791.6 M791.6 1825H813V1765" fill="none" stroke="#111" stroke-width="1.5"/>
<rect x="710" y="1786" width="50" height="19" rx="6" fill="#fff" stroke="#111" stroke-width="1.2"/>
<rect x="718" y="1788.5" width="5.5" height="4.5" fill="#fff" stroke="#111" stroke-width="0.9"/>
<ellipse cx="655" cy="1793" rx="2.8" ry="5.5" fill="#fff" stroke="#111" stroke-width="1.1"/>
<rect x="670.5" y="1812" width="12" height="9" fill="#fff" stroke="#111" stroke-width="1.1"/><path d="M672.5 1813L674.5 1820L676.5 1814L678.5 1820L680.5 1813" stroke="#111" stroke-width="0.9" fill="none"/>
<path d="M692 1825L698.6 1823V1828Z" fill="#222"/>
<path d="M729 1811H741" stroke="#222" stroke-width="1.3"/><rect x="732" y="1811" width="6" height="27" fill="#fff" stroke="#222" stroke-width="1.1"/>
<rect x="762" y="1820" width="6.5" height="4.5" fill="#aaa" stroke="#111" stroke-width="0.9"/><rect x="778.5" y="1820" width="5" height="4.5" fill="#fff" stroke="#111" stroke-width="0.9"/>
<path d="M770.5 1829L779.5 1835V1829L770.5 1835Z" fill="#fff" stroke="#222" stroke-width="0.9"/><path d="M775 1832V1836" stroke="#222" stroke-width="1.2"/>
<rect x="792.5" y="1774.5" width="12" height="10" fill="#333"/><path d="M792.5 1777H804.5M792.5 1779.5H804.5M792.5 1782H804.5" stroke="#ddd" stroke-width="0.6"/><rect x="786" y="1770" width="4.5" height="4" fill="#fff" stroke="#111" stroke-width="0.9"/><path d="M788 1774V1782" stroke="#111" stroke-width="1.6"/>
<path d="M791.6 1794.6H799 M791.6 1805.5H797" stroke="#111" stroke-width="1.3"/><circle cx="802.6" cy="1794.6" r="3.6" fill="#fff" stroke="#111" stroke-width="1.1"/>
<path d="M797 1803H806V1808H797Z" fill="#fff" stroke="#111" stroke-width="1"/><path d="M800 1808L802 1811.5L804 1808" fill="#111" stroke="#111" stroke-width="0.8"/>
<ellipse cx="817" cy="1724" rx="10" ry="41" fill="#fff" stroke="#111" stroke-width="1.1"/>
<path d="M817.5 1683Q807 1693 807 1724Q807 1755 817.5 1765Q821.5 1750 820.5 1737Q822.5 1724 819.5 1714Q821.5 1702 817.5 1683Z" fill="#111"/>
<path d="M817 1683L819 1679.5L821 1682" stroke="#111" stroke-width="0.9" fill="none"/>
<path d="M667 1631L705 1675M690 1631L706 1663M752 1632L745 1657M773 1632L757 1653M643 1650L686 1690M643 1669L726 1722M643 1706L708 1725M643 1723L669.4 1730M649 1738L727 1757M646 1756L673 1784M646 1779L653 1789M647 1805.5L718 1792M647 1826L670 1819M688 1859L696 1827M706 1859L728 1802M752 1859L764 1824M767 1859L775 1835M788 1859L781 1824M832 1822L806 1808M832 1810L806 1797M832 1797L802 1784M832 1768.5L791 1772M832 1750L822 1751" stroke="#222" stroke-width="0.9" fill="none"/>
<g font-family="Liberation Sans">
<text x="666" y="1631.0" text-anchor="middle" fill="#555" font-size="9.5">4</text>
<text x="687.6" y="1631.0" text-anchor="middle" fill="#555" font-size="9.5">3</text>
<text x="754" y="1631.0" text-anchor="middle" fill="#555" font-size="9.5">2</text>
<text x="775.6" y="1631.0" text-anchor="middle" fill="#555" font-size="9.5">1</text>
<text x="640.6" y="1650.4" text-anchor="middle" fill="#555" font-size="9.5">5</text>
<text x="639" y="1669.4" text-anchor="middle" fill="#555" font-size="9.5">6</text>
<text x="640" y="1707.0" text-anchor="middle" fill="#555" font-size="9.5">7</text>
<text x="640.6" y="1723.4" text-anchor="middle" fill="#555" font-size="9.5">8</text>
<text x="640.6" y="1740.4" text-anchor="middle" fill="#555" font-size="9.5">9</text>
<text x="643" y="1755.4" text-anchor="middle" fill="#555" font-size="9.5">10</text>
<text x="643" y="1777.4" text-anchor="middle" fill="#555" font-size="9.5">11</text>
<text x="642.6" y="1808.4" text-anchor="middle" fill="#555" font-size="9.5">12</text>
<text x="642" y="1829.4" text-anchor="middle" fill="#555" font-size="9.5">13</text>
<text x="688" y="1866.4" text-anchor="middle" fill="#555" font-size="9.5">14</text>
<text x="706.6" y="1866.4" text-anchor="middle" fill="#555" font-size="9.5">15</text>
<text x="752" y="1866.4" text-anchor="middle" fill="#555" font-size="9.5">16</text>
<text x="767.6" y="1866.4" text-anchor="middle" fill="#555" font-size="9.5">17</text>
<text x="788" y="1866.4" text-anchor="middle" fill="#555" font-size="9.5">18</text>
<text x="840" y="1826.4" text-anchor="middle" fill="#555" font-size="9.5">19</text>
<text x="840" y="1813.0" text-anchor="middle" fill="#555" font-size="9.5">20</text>
<text x="840" y="1801.0" text-anchor="middle" fill="#555" font-size="9.5">21</text>
<text x="840" y="1772.4" text-anchor="middle" fill="#555" font-size="9.5">22</text>
<text x="840" y="1753.4" text-anchor="middle" fill="#555" font-size="9.5">23</text>
<text x="671" y="1846.9" text-anchor="middle" fill="#555" font-size="7.5">A</text>
<text x="698.6" y="1846.9" text-anchor="middle" fill="#555" font-size="7.5">C</text>
<text x="734.6" y="1846.9" text-anchor="middle" fill="#555" font-size="7.5">G</text>
<text x="752.6" y="1846.9" text-anchor="middle" fill="#555" font-size="7.5">F</text>
<text x="794" y="1846.9" text-anchor="middle" fill="#555" font-size="7.5">R</text>
</g>
<rect x="966.7" y="1755" width="185.2" height="119.1" fill="none" stroke="#b5b5b5" stroke-width="1.1"/><path d="M985.8 1774.4V1855.3 M996.2 1774.4V1855.3 M1006.7 1774.4V1855.3 M1017.1 1774.4V1855.3 M1027.6 1774.4V1855.3 M1038.0 1774.4V1855.3 M1048.5 1774.4V1855.3 M1058.9 1774.4V1855.3 M1069.3 1774.4V1855.3 M1079.8 1774.4V1855.3 M1090.2 1774.4V1855.3 M1100.7 1774.4V1855.3 M1111.1 1774.4V1855.3 M1121.6 1774.4V1855.3 M1132.0 1774.4V1855.3 M985.8 1774.4H1132 M985.8 1790.6H1132 M985.8 1806.8H1132 M985.8 1822.9H1132 M985.8 1839.1H1132 M985.8 1855.3H1132 " stroke="#8a8a8a" stroke-width="1.1" fill="none"/><path d="M985.8 1791.9L996.2 1792.2L1006.7 1792.8L1017.1 1794.1L1027.6 1796.2L1038.0 1798.7L1048.5 1801.9L1058.9 1805.5L1069.3 1809.2L1079.8 1814.8L1090.2 1822.9L1100.7 1831.0L1111.1 1840.7L1116.9 1848.5" stroke="#111" stroke-width="1.7" fill="none" stroke-linejoin="round"/><g font-family="Liberation Sans" font-size="4.6" fill="#888" text-anchor="middle"><text x="980.3" y="1776.4">6</text><text x="980.3" y="1792.6">5</text><text x="980.3" y="1808.8">4</text><text x="980.3" y="1824.9">3</text><text x="980.3" y="1841.1">2</text><text x="980.3" y="1857.3">1</text><text x="985.8" y="1865.3">0</text><text x="996.2" y="1865.3">100</text><text x="1006.7" y="1865.3">200</text><text x="1017.1" y="1865.3">300</text><text x="1027.6" y="1865.3">400</text><text x="1038.0" y="1865.3">500</text><text x="1048.5" y="1865.3">600</text><text x="1058.9" y="1865.3">700</text><text x="1069.3" y="1865.3">800</text><text x="1079.8" y="1865.3">900</text><text x="1090.2" y="1865.3">100</text><text x="1100.7" y="1865.3">1100</text><text x="1111.1" y="1865.3">1200</text><text x="1121.6" y="1865.3">1300</text><text x="1132.0" y="1865.3">1400</text></g><g font-family="Liberation Serif" font-size="3.9" fill="#888"><text x="972.2" y="1764.5">扬程 mH O</text><text x="1098.5" y="1764.5">标准1米水泵特性曲线图</text><text x="1123.9" y="1870.6">流量 Kg/h</text></g>
</svg>
<div class="lg" style="left:310.3px;top:1611.3px">1.风压开关</div>
<div class="lg" style="left:310.3px;top:1624.5px">2.风机</div>
<div class="lg" style="left:310.3px;top:1637.6px">3.烟罩</div>
<div class="lg" style="left:310.3px;top:1650.8px">4.主热交换器</div>
<div class="lg" style="left:310.3px;top:1664.0px">5.极限温度开关</div>
<div class="lg" style="left:310.3px;top:1677.1px">6.燃烧器</div>
<div class="lg" style="left:310.3px;top:1690.3px">7.点火感应针</div>
<div class="lg" style="left:310.3px;top:1703.5px">8.密封腔</div>
<div class="lg" style="left:310.3px;top:1716.7px">9.燃气比例阀</div>
<div class="lg" style="left:310.3px;top:1729.8px">10.自动旁通阀</div>
<div class="lg" style="left:310.3px;top:1743.0px">11.卫浴水温传感器</div>
<div class="lg" style="left:310.3px;top:1756.2px">12.生活热水稳流阀</div>
<div class="lg" style="left:310.3px;top:1769.3px">13.注水/补水阀</div>
<div class="lg" style="left:310.3px;top:1782.5px">14.水流传感器</div>
<div class="lg" style="left:310.3px;top:1795.7px">15.水压开关</div>
<div class="lg" style="left:310.3px;top:1808.8px">16.安全阀</div>
<div class="lg" style="left:310.3px;top:1822.0px">17.压力表</div>
<div class="lg" style="left:310.3px;top:1835.2px">18.水泵</div>
<div class="lg" style="left:310.3px;top:1848.4px">19.自动排气阀</div>
<div class="lg" style="left:310.3px;top:1861.5px">20.膨胀水箱</div>
<div class="lg" style="left:310.3px;top:1874.7px">21.供暖水温传感器</div>
<div class="lg" style="left:403.7px;top:1613.3px">A — G3/4&quot;&nbsp; 供暖出水口</div>
<div class="lg" style="left:403.7px;top:1626.5px">C — G1/2&quot;&nbsp; 热水出口</div>
<div class="lg" style="left:403.7px;top:1639.6px">G — G3/4&quot;&nbsp; 燃气入口</div>
<div class="lg" style="left:403.7px;top:1652.8px">F — G1/2&quot;&nbsp; 冷水入口</div>
<div class="lg" style="left:403.7px;top:1666.0px">R — G3/4&quot;&nbsp; 供暖回水口</div>
<div class="lg l2" style="left:871.4px;top:1614.5px">1.风压开关</div>
<div class="lg l2" style="left:871.4px;top:1627.5px">2.风机</div>
<div class="lg l2" style="left:871.4px;top:1640.6px">3.烟罩</div>
<div class="lg l2" style="left:871.4px;top:1653.7px">4.主热交换器</div>
<div class="lg l2" style="left:871.4px;top:1666.7px">5.极限温度开关</div>
<div class="lg l2" style="left:871.4px;top:1679.8px">6.燃烧器</div>
<div class="lg l2" style="left:871.4px;top:1692.8px">7.点火感应针</div>
<div class="lg l2" style="left:871.4px;top:1705.8px">8.密封腔</div>
<div class="lg l2" style="left:871.4px;top:1718.9px">9.燃气比例阀</div>
<div class="lg l2" style="left:871.4px;top:1732.0px">10.供暖水温传感器</div>
<div class="lg l2" style="left:871.4px;top:1745.0px">11.电动三通阀</div>
<div class="lg l2" style="left:871.4px;top:1758.0px">12.主回路水流开关</div>
<div class="lg l2" style="left:871.4px;top:1771.1px">13.自动旁通阀</div>
<div class="lg l2" style="left:871.4px;top:1784.2px">14.卫浴水温传感器</div>
<div class="lg l2" style="left:871.4px;top:1797.2px">15.板式换热器</div>
<div class="lg l2" style="left:871.4px;top:1810.2px">16.卫浴水稳流阀</div>
<div class="lg l2" style="left:871.4px;top:1823.3px">17.注水/补水阀</div>
<div class="lg l2" style="left:871.4px;top:1836.3px">18.卫浴水水流开关</div>
<div class="lg l2" style="left:871.4px;top:1849.4px">19.安全阀</div>
<div class="lg l2" style="left:871.4px;top:1862.5px">20.压力表</div>
<div class="lg l2" style="left:975.5px;top:1614.2px">21.水泵</div>
<div class="lg l2" style="left:975.5px;top:1627.2px">22.自动排气阀</div>
<div class="lg l2" style="left:975.5px;top:1640.3px">23.膨胀水箱</div>
<div class="lg l2" style="left:975.5px;top:1665.6px">A — G3/4&quot;&nbsp; 供暖出水口</div>
<div class="lg l2" style="left:975.5px;top:1678.4px">C — G1/2&quot;&nbsp; 热水出口</div>
<div class="lg l2" style="left:975.5px;top:1691.3px">G — G3/4&quot;&nbsp; 燃气入口</div>
<div class="lg l2" style="left:975.5px;top:1704.1px">F — G1/2&quot;&nbsp; 冷水入口</div>
<div class="lg l2" style="left:975.5px;top:1717.0px">R — G3/4&quot;&nbsp; 供暖回水口</div>
<!-- /S3 -->
<!-- header -->
<div class="a" style="left:0;top:33px;width:1200px;height:2px;background:#e3e3e3"></div>
<div class="a" style="left:18px;top:84px;width:1182px;height:2px;background:#e3e3e3"></div>
<div class="a" style="left:186px;top:54px;width:2px;height:78px;background:#e3e3e3"></div>
<div class="a" style="left:198px;top:37px;width:856px;height:40px;background-image:radial-gradient(#000 0.9px,transparent 1.1px);background-size:8px 8px;background-position:-3px -3px"></div>
<div class="a" style="left:19px;top:94px;width:160px;height:17px;background:#009fe8"></div>
<div class="a" id="feat" style="left:22px;top:56px;font-size:48px;font-weight:bold;color:#333;transform-origin:0 0;transform:scaleX(0.535);letter-spacing:5px;-webkit-text-stroke:1.5px #333">FEATURES</div>
<div class="a" style="left:202px;top:87px;font-size:29px;font-weight:bold;color:#333">产品外观尺寸</div>

<div class="a" style="left:448px;top:897px;font-size:18px;color:#333">*备注：852<span class="x">×</span>613<span class="x">×</span>360（适用于50kW）</div>
<div class="a" style="left:558px;top:954px;font-size:18px;color:#333">单位：mm</div>
<div class="a" style="left:428px;top:1014px;font-size:18px;color:#333">产品型号：L1P35/40-H&nbsp;&nbsp;&nbsp;&nbsp;L1P40/50-H(双泵)</div>

<div class="a" style="left:384px;top:1090px;font-size:36.8px;font-weight:bold;color:#333">产品系统连接及原理示意</div>
<div class="a" style="left:476px;top:1146px;font-size:22px;color:#333">壁挂炉系统连接示意图</div>

<div class="a" style="left:199px;top:1939px;font-size:17.4px;letter-spacing:0.45px;font-weight:300;color:#333">套管机原理和水泵特性图</div>
<div class="a" style="left:777px;top:1939px;font-size:17.4px;letter-spacing:0.45px;font-weight:300;color:#333">板换机原理和水泵特性图</div>
</body></html>
